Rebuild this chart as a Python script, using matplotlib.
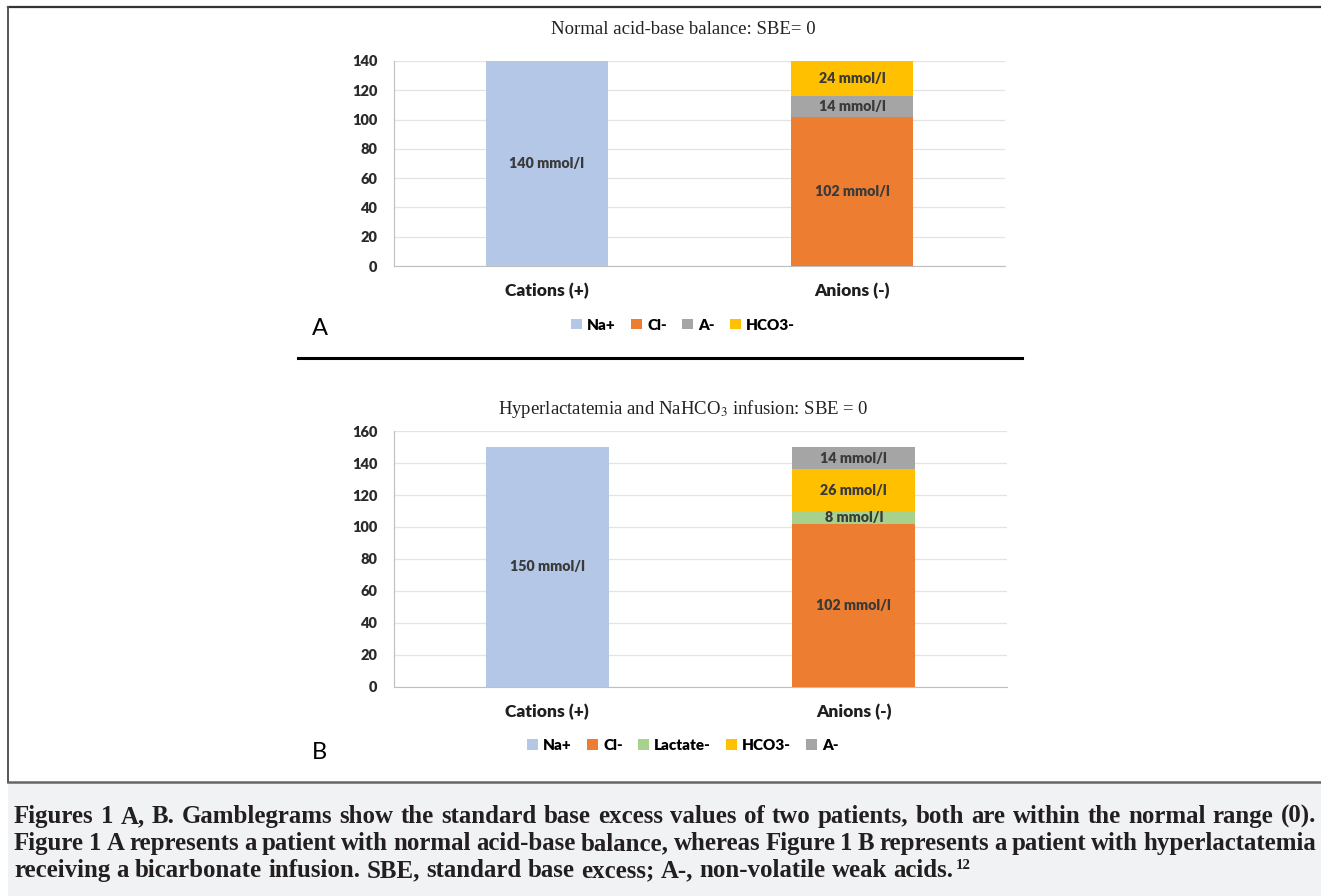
import matplotlib
matplotlib.use("Agg")
import matplotlib.pyplot as plt
from matplotlib.lines import Line2D
from matplotlib.patches import Rectangle

# ---------------- data ----------------
categories = ["Cations (+)", "Anions (-)"]

a_title = "Normal acid-base balance: SBE= 0"
a_series = ["Na+", "Cl-", "A-", "HCO3-"]
a_values = {
    "Na+":   [140, 0],
    "Cl-":   [0, 102],
    "A-":    [0, 14],
    "HCO3-": [0, 24],
}
a_yticks = [0, 20, 40, 60, 80, 100, 120, 140]

b_title = "Hyperlactatemia and NaHCO$_3$ infusion: SBE = 0"
b_series = ["Na+", "Cl-", "Lactate-", "HCO3-", "A-"]
b_values = {
    "Na+":      [150, 0],
    "Cl-":      [0, 102],
    "Lactate-": [0, 8],
    "HCO3-":    [0, 26],
    "A-":       [0, 14],
}
b_yticks = [0, 20, 40, 60, 80, 100, 120, 140, 160]

colors = {
    "Na+": "#B4C7E7",
    "Cl-": "#ED7D31",
    "A-": "#A5A5A5",
    "HCO3-": "#FFC000",
    "Lactate-": "#A9D18E",
}

caption_lines = [
    "Figures 1 A, B. Gamblegrams show the standard base excess values of two patients, both are within the normal range (0).",
    "Figure 1 A represents a patient with normal acid-base balance, whereas Figure 1 B represents a patient with hyperlactatemia",
    "receiving a bicarbonate infusion. SBE, standard base excess; A-, non-volatile weak acids.",
]
caption_sup = "12"

# ---------------- layout helpers ----------------
W, H = 1321, 896
plt.rcParams["mathtext.fontset"] = "stix"
fig = plt.figure(figsize=(W / 100, H / 100), dpi=100)
fig.patch.set_facecolor("white")

def fx(x):
    return x / W

def fy(y):
    return 1 - y / H

SANS = ["Lato", "DejaVu Sans"]
SERIF = ["Liberation Serif", "DejaVu Serif"]
TXT = "#1F1F1F"

# frame lines and caption background
fig.add_artist(Rectangle((fx(8), 0), 1 - fx(8), fy(783), transform=fig.transFigure,
                         facecolor="#F1F2F4", edgecolor="none", zorder=0))
fig.add_artist(Line2D([fx(8), 1], [fy(7), fy(7)], transform=fig.transFigure, color="#333333", lw=1.6))
fig.add_artist(Line2D([fx(8), fx(8)], [fy(7), fy(782)], transform=fig.transFigure, color="#555555", lw=1.4))
fig.add_artist(Line2D([fx(8), 1], [fy(782), fy(782)], transform=fig.transFigure, color="#666666", lw=1.8))
fig.add_artist(Line2D([fx(298), fx(1022)], [fy(358), fy(358)], transform=fig.transFigure, color="black", lw=2.2))


def panel(ax_box, title, title_y, series, values, yticks, leg_y, letter, letter_y):
    left, top, right, bottom = ax_box
    ax = fig.add_axes([fx(left), fy(bottom), fx(right) - fx(left), fy(top) - fy(bottom)])
    x = list(range(len(categories)))
    base = [0] * len(categories)
    handles = []
    for s in series:
        vals = values[s]
        bars = ax.bar(x, vals, width=0.4, bottom=base, color=colors[s], label=s, zorder=3)
        handles.append(bars)
        for xi, v, b0 in zip(x, vals, base):
            if v > 0:
                ax.text(xi, b0 + v / 2, f"{v} mmol/l", ha="center", va="center",
                        fontsize=10.3, fontweight="heavy", color="#3A3A3A", family=SANS, zorder=4)
        base = [b + v for b, v in zip(base, vals)]
    ax.set_xlim(-0.5, 1.5)
    ax.set_ylim(yticks[0], yticks[-1])
    ax.set_yticks(yticks)
    ax.set_xticks(x)
    ax.set_xticklabels(categories, fontsize=12.5, fontweight="heavy", color=TXT, family=SANS)
    for lab in ax.get_yticklabels():
        lab.set_fontsize(10.5)
        lab.set_fontweight("heavy")
        lab.set_color("#2B2B2B")
        lab.set_family(SANS)
    ax.tick_params(axis="both", length=0)
    ax.tick_params(axis="x", pad=12)
    ax.tick_params(axis="y", pad=12)
    ax.grid(axis="y", color="#E3E3E3", lw=0.9, zorder=0)
    for sp in ["top", "right"]:
        ax.spines[sp].set_visible(False)
    ax.spines["left"].set_color("#BFBFBF")
    ax.spines["bottom"].set_color("#BFBFBF")
    fig.text(fx(683), fy(title_y), title, ha="center", va="center", fontsize=13.5,
             family=SERIF, color="#222222")
    fig.legend(handles=handles, labels=series, loc="center", bbox_to_anchor=(fx(683), fy(leg_y)),
               ncol=len(series), frameon=False, handlelength=0.7, handleheight=0.7,
               handletextpad=0.35, columnspacing=1.0,
               prop={"family": SANS, "weight": "heavy", "size": 11})
    fig.text(fx(312), fy(letter_y), letter, ha="left", va="center", fontsize=17,
             family=SANS, color="black")
    return ax


panel((394, 61, 1005, 266), a_title, 30, a_series, a_values, a_yticks, 325, "A", 328)
panel((394, 431, 1007, 687), b_title, 409, b_series, b_values, b_yticks, 745, "B", 752)

# ---------------- justified caption ----------------
renderer = fig.canvas.get_renderer()
cap_kw = dict(family=SERIF, fontweight="bold", color="#231F20", va="baseline", ha="left")

probe = fig.text(0, 0, caption_lines[2], fontsize=10, **cap_kw)
w10 = probe.get_window_extent(renderer).width
probe.remove()
cap_size = 10 * (941 / w10)

x0, x1 = 14, 1316
baselines = [823, 850, 877]
for i, line in enumerate(caption_lines):
    words = line.split(" ")
    texts = [fig.text(0, 0, w, fontsize=cap_size, **cap_kw) for w in words]
    widths = [t.get_window_extent(renderer).width for t in texts]
    if i < 2:
        gap = (x1 - x0 - sum(widths)) / (len(words) - 1)
    else:
        sp = fig.text(0, 0, "a a", fontsize=cap_size, **cap_kw)
        sa = fig.text(0, 0, "aa", fontsize=cap_size, **cap_kw)
        gap = sp.get_window_extent(renderer).width - sa.get_window_extent(renderer).width
        sp.remove(); sa.remove()
    xx = x0
    for t, w in zip(texts, widths):
        t.set_position((fx(xx), fy(baselines[i])))
        xx += w + gap
    if i == 2:
        fig.text(fx(xx - gap + 2), fy(baselines[i] - 8), caption_sup, fontsize=cap_size * 0.6, **cap_kw)

fig.savefig("out.png", dpi=100, facecolor="white")
